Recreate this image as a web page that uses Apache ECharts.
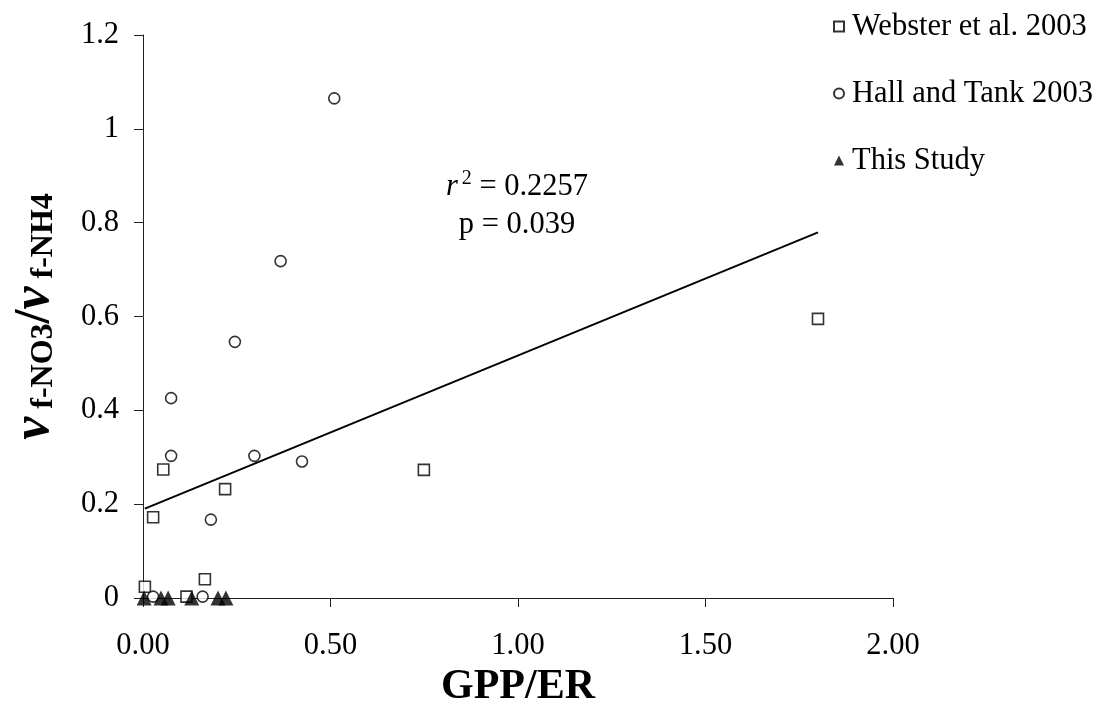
<!DOCTYPE html>
<html>
<head>
<meta charset="utf-8">
<script src="https://cdn.jsdelivr.net/npm/echarts@6/dist/echarts.min.js"></script>
<style>
  html, body { margin: 0; padding: 0; background: #fff; }
  #chart { width: 1100px; height: 707px; }
</style>
</head>
<body>
<div id="chart"></div>
<script>
// GPP/ER vs ratio of NO3 to NH4 uptake velocity
const websterData = [
  [0.005, 0.024], [0.027, 0.172], [0.054, 0.274], [0.116, 0.003],
  [0.165, 0.040], [0.219, 0.232], [0.749, 0.273], [1.80, 0.595]
];
const hallTankData = [
  [0.027, 0.003], [0.075, 0.303], [0.075, 0.426], [0.159, 0.003],
  [0.181, 0.167], [0.245, 0.546], [0.297, 0.303], [0.367, 0.718],
  [0.424, 0.291], [0.510, 1.065]
];
const thisStudyData = [
  [0.003, 0], [0.048, 0], [0.067, 0], [0.130, 0], [0.200, 0], [0.221, 0]
];
const seriesNames = ['Webster et al. 2003', 'Hall and Tank 2003', 'This Study'];

// Linear regression over the pooled data
const trendSlope = 0.328;
const trendIntercept = 0.189;
const trendRangeX = [0.005, 1.80];
const trendLine = trendRangeX.map(x => [x, trendIntercept + trendSlope * x]);

const xTicks = { min: 0, max: 2, interval: 0.5 };
const yTicks = { min: 0, max: 1.2, interval: 0.2 };

const serif = '"Liberation Serif", "Times New Roman", serif';
const fs = 30.5;

const chart = echarts.init(document.getElementById('chart'), null, { renderer: 'canvas' });

chart.setOption({
  backgroundColor: '#fff',
  animation: false,
  textStyle: { fontFamily: serif, color: '#000' },
  grid: { left: 143, right: 207, top: 35, bottom: 109, containLabel: false, outerBoundsMode: 'none' },
  legend: {
    orient: 'vertical',
    left: 833,
    top: 11,
    padding: 0,
    itemWidth: 10,
    itemHeight: 10,
    itemGap: 36,
    data: seriesNames,
    textStyle: { fontFamily: serif, fontSize: fs, color: '#000', padding: [0, 0, 0, 3] }
  },
  xAxis: {
    type: 'value',
    min: xTicks.min, max: xTicks.max, interval: xTicks.interval,
    name: 'GPP/ER',
    nameLocation: 'middle',
    nameGap: 67,
    nameTextStyle: { fontFamily: serif, fontSize: 42, fontWeight: 'bold', color: '#000', verticalAlign: 'top' },
    axisLine: { onZero: false, lineStyle: { color: '#222', width: 1 } },
    axisTick: { inside: false, length: 9, lineStyle: { color: '#222' } },
    axisLabel: { margin: 32, fontSize: fs, color: '#000', fontFamily: serif, formatter: v => v.toFixed(2) },
    splitLine: { show: false }
  },
  yAxis: {
    type: 'value',
    min: yTicks.min, max: yTicks.max, interval: yTicks.interval,
    name: '{v|v}{sub| f-NO3}{sl|/}{v|v}{sub| f-NH4}',
    nameLocation: 'middle',
    nameRotate: 90,
    nameGap: 82,
    nameTextStyle: {
      fontFamily: serif, color: '#000', fontWeight: 'bold',
      rich: {
        v: { fontFamily: serif, fontSize: 52, fontStyle: 'italic', fontWeight: 'bold', color: '#000' },
        sub: { fontFamily: serif, fontSize: 32, fontWeight: 'bold', color: '#000', padding: [17, 0, 0, 0] },
        sl: { fontFamily: serif, fontSize: 50, fontWeight: 'bold', color: '#000' }
      }
    },
    axisLine: { show: true, onZero: false, lineStyle: { color: '#222', width: 1 } },
    axisTick: { show: true, inside: false, length: 9, lineStyle: { color: '#222' } },
    axisLabel: { margin: 24, fontSize: fs, color: '#000', fontFamily: serif },
    splitLine: { show: false }
  },
  graphic: [
    {
      type: 'text',
      x: 517, y: 187,
      style: {
        text: '{r|r}{sup|2}{t| = 0.2257}',
        align: 'center',
        verticalAlign: 'middle',
        rich: {
          r: { fontFamily: serif, fontSize: fs, fontStyle: 'italic', fill: '#000' },
          sup: { fontFamily: serif, fontSize: 20, fill: '#000', padding: [0, 0, 16, 4] },
          t: { fontFamily: serif, fontSize: fs, fill: '#000' }
        }
      }
    },
    {
      type: 'text',
      x: 517, y: 225,
      style: { text: 'p = 0.039', align: 'center', verticalAlign: 'middle', fontFamily: serif, fontSize: fs, fill: '#000' }
    }
  ],
  series: [
    {
      name: 'trend',
      type: 'line',
      data: trendLine,
      symbol: 'none',
      lineStyle: { color: '#000', width: 2 },
      silent: true,
      z: 1
    },
    {
      name: seriesNames[0],
      type: 'scatter',
      data: websterData,
      symbol: 'rect',
      symbolSize: 11,
      itemStyle: { color: '#fff', borderColor: '#000', borderWidth: 1.6 },
      z: 3
    },
    {
      name: seriesNames[1],
      type: 'scatter',
      data: hallTankData,
      symbol: 'circle',
      symbolSize: 11,
      itemStyle: { color: '#fff', borderColor: '#000', borderWidth: 1.6 },
      z: 4
    },
    {
      name: seriesNames[2],
      type: 'scatter',
      data: thisStudyData,
      symbol: 'triangle',
      symbolSize: 15,
      itemStyle: { color: '#000', borderColor: '#000', borderWidth: 0 },
      z: 5
    }
  ]
});
</script>
</body>
</html>
